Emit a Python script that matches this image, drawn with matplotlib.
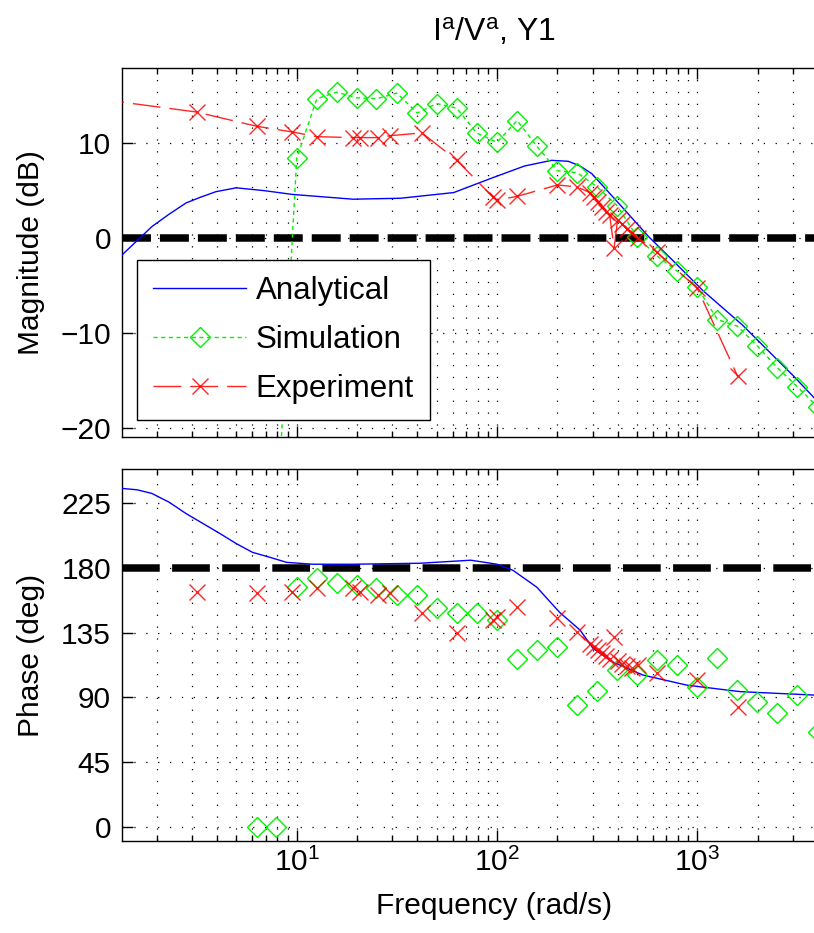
import numpy as np
import matplotlib
matplotlib.use('Agg')
import matplotlib.pyplot as plt
from matplotlib.ticker import LogLocator, NullFormatter, FixedLocator

plt.rcParams['font.family'] = ['Liberation Sans', 'DejaVu Sans']
plt.rcParams['mathtext.default'] = 'regular'
plt.rcParams['font.size'] = 21.5

# analytical model
ana_mag_freq = [1.34, 1.89, 2.3, 2.80, 3.3, 3.96, 4.99, 6.90, 9.55, 19.1, 33.0, 60.8, 93.3,
                137, 187, 227, 260, 297, 420, 574, 749, 1060, 1683, 3000, 3965, 7000]
ana_mag_db = [-1.8, 1.2, 2.5, 3.7, 4.3, 4.9, 5.3, 5.0, 4.6, 4.1, 4.2, 4.8, 6.3,
              7.6, 8.2, 8.1, 7.6, 6.8, 3.3, 0.1, -2.3, -5.5, -9.2, -14.5, -17.2, -22.8]
ana_ph_freq = [1.34, 1.6, 1.89, 2.3, 2.80, 4.10, 5.0, 6.01, 7.31, 8.91, 12.0, 19.1, 41.5,
               74.0, 100, 120, 158, 206, 260, 302, 380, 536, 888, 1634, 3824, 7000]
ana_ph_deg = [235.5, 234.5, 232, 226, 218, 204.4, 197, 191, 187.6, 184, 182.7, 182.7, 183.4,
              185.5, 182.7, 178.5, 166.7, 149, 136.8, 124, 114.5, 105.5, 98.5, 94, 91.6, 90.8]

# simulation
sim_freq = [6.3, 7.9, 10, 12.6, 15.8, 20, 25, 31.6, 40, 50, 63, 79, 100, 126, 158,
            200, 251, 316, 398, 501, 631, 794, 1000, 1259, 1585, 1995, 2512, 3162, 3981]
sim_mag = [-40, -31, 8.4, 14.7, 15.4, 14.8, 14.7, 15.3, 13.2, 14.2, 13.7, 11.1, 10.1, 12.4, 9.7,
           7.1, 6.9, 5.4, 3.4, 0.1, -1.9, -3.5, -5.2, -8.6, -9.3, -11.4, -13.7, -15.7, -17.8]
sim_phase = [0, 0, 166.7, 172.9, 169.5, 168.1, 166, 161.1, 161.1, 152, 148.6, 148.6, 143.7, 117, 122.9,
             125, 84.4, 94.2, 108.8, 105.3, 115.9, 112.5, 97.2, 117.3, 95, 86.7, 79, 91.6, 65.9]

# experiment
exp_freq = [1.0, 3.16, 6.3, 9.5, 12.6, 19.1, 20.7, 25.4, 29.2, 42.2, 63, 95.6, 100, 126, 200,
            251, 290, 305, 320, 335, 350, 365, 384, 400, 420, 445, 470, 508, 628, 1000, 1590]
exp_mag = [14.7, 13.3, 11.8, 11.2, 10.7, 10.6, 10.6, 10.6, 10.8, 11.1, 8.2, 4.3, 4.0, 4.4, 5.6,
           5.4, 4.8, 4.3, 3.8, 3.3, 2.8, 2.4, -1.05, 1.9, 1.5, 1.0, 0.5, 0.0, -1.5, -5.3, -14.6]
exp_phase = [165, 163.2, 162.5, 163.2, 166, 166, 163.2, 161.1, 162.5, 148.6, 134.7, 143.7, 145.8, 152.8, 145,
             135.4, 127.5, 125, 123, 121, 119, 117, 131.7, 115, 113.5, 112, 110.5, 112.5, 107, 102.2, 83.2]

mag_ticks = [-20, -10, 0, 10]
phase_ticks = [0, 45, 90, 135, 180, 225]

fig = plt.figure(figsize=(8.14, 9.33), dpi=100)
W, H = 814, 933
ax1 = fig.add_axes([122 / W, (H - 437) / H, 744 / W, 369.5 / H])
ax2 = fig.add_axes([122 / W, (H - 841) / H, 744 / W, 372 / H])

green = (0, 0.95, 0)
grid_ls = (0, (1.0, 8.5))
for ax in (ax1, ax2):
    ax.set_xscale('log')
    ax.set_xlim(1.342, 6950)
    ax.xaxis.set_minor_locator(LogLocator(base=10, subs=np.arange(2, 10)))
    ax.xaxis.set_minor_formatter(NullFormatter())
    ax.xaxis.grid(True, which='both', linestyle=grid_ls, color='k', linewidth=0.9)
    ax.yaxis.grid(True, which='major', linestyle=grid_ls, color='k', linewidth=0.9)
    ax.tick_params(which='both', direction='in', top=True, right=True, width=1)
    ax.tick_params(which='major', length=8, pad=8)
    ax.tick_params(which='minor', length=4.5)
    ax.tick_params(axis='x', which='major', pad=5)
    for s in ax.spines.values():
        s.set_linewidth(1.0)

# magnitude
ax1.plot(ana_mag_freq, ana_mag_db, color='b', lw=1.0, label='Analytical', zorder=3)
ax1.plot(sim_freq, sim_mag, color=green, lw=1.0, dashes=(3, 2.5), marker='D',
         ms=10, mfc='none', mec=green, mew=1.0, label='Simulation', zorder=3)
ax1.plot(exp_freq, exp_mag, color='r', lw=1.0, dashes=(20, 6.5), marker='x',
         ms=11.5, mew=1.0, label='Experiment', zorder=3, alpha=0.85)
ax1.axhline(0, color='k', lw=5.4, dashes=(3.86, 1.2), zorder=2)
ax1.set_ylim(-21, 18)
ax1.yaxis.set_major_locator(FixedLocator(mag_ticks))
ax1.tick_params(axis='x', which='both', labelbottom=False)
ax1.set_ylabel('Magnitude (dB)')
ax1.yaxis.set_label_coords(-0.103, 0.5)
ax1.set_title(r'I$^{a}$/V$^{a}$, Y1', pad=19, fontsize=23)

leg = ax1.legend(loc='lower left', bbox_to_anchor=(15 / 744, 17 / 369.5), borderaxespad=0,
                 fancybox=False, framealpha=1, edgecolor='k', handlelength=3.0,
                 handletextpad=0.3, labelspacing=0.62, borderpad=0.5, fontsize=22.5)
leg.get_frame().set_linewidth(1.0)

# phase
ax2.plot(ana_ph_freq, ana_ph_deg, color='b', lw=1.0, zorder=3)
ax2.plot(sim_freq, sim_phase, linestyle='none', marker='D', ms=10, mfc='none',
         mec=green, mew=1.0, zorder=3)
ax2.plot(exp_freq, exp_phase, linestyle='none', marker='x', ms=11.5, mew=1.0,
         color='r', zorder=3, alpha=0.85)
ax2.axhline(180, color='k', lw=5.4, dashes=(5.03, 1.65), zorder=2)
ax2.set_ylim(-10, 249)
ax2.yaxis.set_major_locator(FixedLocator(phase_ticks))
ax2.set_xlabel('Frequency (rad/s)', labelpad=11)
ax2.set_ylabel('Phase (deg)')
ax2.yaxis.set_label_coords(-0.103, 0.5)

fig.savefig('out.png', dpi=100)
